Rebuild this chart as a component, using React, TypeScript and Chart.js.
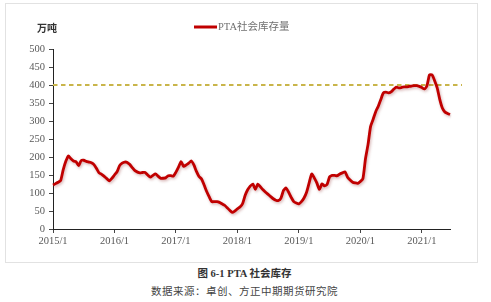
import React, { useEffect, useRef } from "react";
import { Chart, registerables } from "chart.js";

Chart.register(...registerables);

// Semi-monthly PTA social inventory (万吨), two readings per month
const years = [2015, 2016, 2017, 2018, 2019, 2020, 2021];
const inv2015 = [122, 126, 130, 135, 165, 188, 203, 195, 189, 187, 176, 190, 191, 188, 186, 184, 179, 168, 156, 152, 146, 140, 134, 141];
const inv2016 = [150, 159, 176, 183, 186, 185, 179, 170, 162, 158, 156, 157, 157, 150, 144, 149, 153, 147, 141, 141, 142, 148, 148, 147];
const inv2017 = [158, 172, 187, 174, 178, 183, 189, 178, 160, 146, 139, 122, 104, 89, 76, 76, 76, 74, 70, 66, 59, 52, 46, 50];
const inv2018 = [56, 61, 70, 93, 109, 119, 125, 110, 125, 117, 109, 102, 96, 90, 84, 80, 79, 86, 107, 114, 102, 88, 76, 72];
const inv2019 = [70, 76, 86, 102, 128, 153, 142, 128, 110, 125, 120, 124, 145, 149, 149, 148, 153, 156, 159, 144, 136, 130, 128, 127];
const inv2020 = [132, 140, 195, 235, 285, 305, 326, 341, 360, 378, 380, 378, 381, 388, 394, 392, 393, 395, 395, 396, 397, 398, 398, 396];
const inv2021 = [393, 389, 398, 428, 428, 412, 392, 360, 336, 325, 321, 318];

const seriesByYear = [inv2015, inv2016, inv2017, inv2018, inv2019, inv2020, inv2021];
const warningLevel = 400;
const seriesName = "PTA社会库存量";
const unitLabel = "万吨";
const captionTitle = "图 6-1 PTA 社会库存";
const captionSource = "数据来源：卓创、方正中期期货研究院";

const labels: string[] = [];
const values: number[] = [];
seriesByYear.forEach((arr, yi) => {
  arr.forEach((v, k) => {
    labels.push(`${years[yi]}/${Math.floor(k / 2) + 1}`);
    values.push(v);
  });
});

const SERIF = '"Liberation Serif", "Times New Roman", "Noto Sans CJK SC", serif';
const CJK = '"Noto Sans CJK SC", "Liberation Serif", serif';

const overlayPlugin = {
  id: "overlay",
  beforeDatasetsDraw(chart: any) {
    const { ctx, chartArea, scales } = chart;
    const y = scales.y.getPixelForValue(warningLevel);
    ctx.save();
    ctx.strokeStyle = "#c9b54a";
    ctx.lineWidth = 2;
    ctx.setLineDash([4.5, 3.5]);
    ctx.beginPath();
    ctx.moveTo(chartArea.left, y);
    ctx.lineTo(chartArea.right + 12, y);
    ctx.stroke();
    ctx.restore();
  },
  beforeDatasetDraw(chart: any) {
    const ctx = chart.ctx;
    ctx.save();
    ctx.shadowColor = "rgba(120,0,0,0.3)";
    ctx.shadowBlur = 3;
    ctx.shadowOffsetX = 1;
    ctx.shadowOffsetY = 1.5;
  },
  afterDatasetDraw(chart: any) {
    chart.ctx.restore();
  },
  afterDraw(chart: any) {
    const { ctx, chartArea } = chart;
    ctx.save();
    ctx.fillStyle = "#333";
    ctx.font = `bold 10px ${CJK}`;
    ctx.textBaseline = "middle";
    ctx.textAlign = "left";
    ctx.fillText(unitLabel, chartArea.left - 16, chartArea.top - 21);
    const lx = chartArea.left + 141;
    const ly = chartArea.top - 22;
    ctx.strokeStyle = "#c00000";
    ctx.lineWidth = 3;
    ctx.beginPath();
    ctx.moveTo(lx, ly);
    ctx.lineTo(lx + 23, ly);
    ctx.stroke();
    ctx.fillStyle = "#707070";
    ctx.font = `10.5px ${SERIF}`;
    ctx.fillText(seriesName, lx + 24, ly + 0.5);
    ctx.restore();
  },
};

function ChartBox() {
  const ref = useRef<HTMLCanvasElement>(null);
  useEffect(() => {
    if (!ref.current) return;
    const chart = new Chart(ref.current, {
      type: "line",
      data: {
        labels,
        datasets: [
          {
            label: seriesName,
            data: values,
            borderColor: "#c00000",
            borderWidth: 2.8,
            pointRadius: 0,
            tension: 0.2,
            fill: false,
          },
        ],
      },
      options: {
        animation: false,
        responsive: false,
        maintainAspectRatio: false,
        layout: { padding: { top: 49, right: 41, bottom: 0, left: 0 } },
        plugins: { legend: { display: false }, tooltip: { enabled: false } },
        scales: {
          x: {
            afterFit: (s: any) => {
              s.height = 33;
            },
            border: { display: true, color: "#222", width: 1 },
            grid: { display: true, drawOnChartArea: false, drawTicks: true, tickLength: 4, color: "#444" },
            ticks: {
              autoSkip: false,
              maxRotation: 0,
              padding: 2,
              color: "#595959",
              font: { family: SERIF, size: 10.5 },
              callback: function (this: any, value: any, index: number) {
                return index % 24 === 0 ? this.getLabelForValue(value) : null;
              },
            },
          },
          y: {
            min: 0,
            max: 500,
            afterFit: (s: any) => {
              s.width = 53;
            },
            border: { display: true, color: "#222", width: 1 },
            grid: { display: true, drawOnChartArea: false, drawTicks: true, tickLength: 4, color: "#444" },
            ticks: {
              stepSize: 50,
              padding: 4,
              color: "#595959",
              font: { family: SERIF, size: 10.5 },
            },
          },
        },
      },
      plugins: [overlayPlugin],
    });
    return () => chart.destroy();
  }, []);
  return <canvas ref={ref} width={491} height={262} style={{ position: "absolute", left: 0, top: 0, width: 491, height: 262 }} />;
}

export default function App() {
  return (
    <div style={{ position: "absolute", left: 0, top: 0, width: 491, height: 302, background: "#fff", overflow: "hidden" }}>
      <div
        style={{
          position: "absolute",
          left: 5,
          top: 3,
          width: 471,
          height: 258,
          border: "1px solid #e2e2e2",
        }}
      />
      <ChartBox />
      <div
        style={{
          position: "absolute",
          left: 0,
          width: 491,
          top: 266,
          textAlign: "center",
          fontFamily: SERIF,
          fontSize: 10.5,
          color: "#333",
          lineHeight: "16px",
        }}
      >
        <div style={{ marginLeft: -2, fontWeight: "bold" }}>{captionTitle}</div>
        <div style={{ marginLeft: -2, marginTop: 2, color: "#444", letterSpacing: 0.5 }}>{captionSource}</div>
      </div>
    </div>
  );
}
